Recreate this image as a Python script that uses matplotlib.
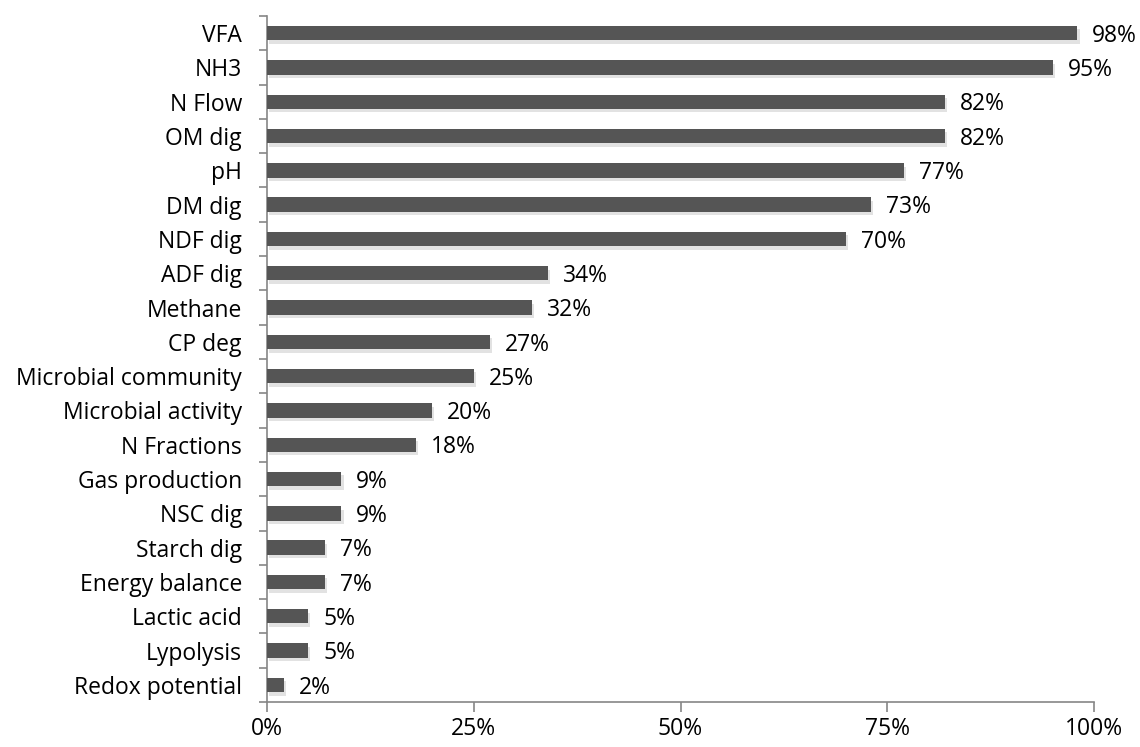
import matplotlib
matplotlib.use("Agg")
import matplotlib.pyplot as plt
import matplotlib.patheffects as pe
import numpy as np

categories = ["VFA", "NH3", "N Flow", "OM dig", "pH", "DM dig", "NDF dig", "ADF dig",
              "Methane", "CP deg", "Microbial community", "Microbial activity",
              "N Fractions", "Gas production", "NSC dig", "Starch dig",
              "Energy balance", "Lactic acid", "Lypolysis", "Redox potential"]
values = [98, 95, 82, 82, 77, 73, 70, 34, 32, 27, 25, 20, 18, 9, 9, 7, 7, 5, 5, 2]
xticks = [0, 25, 50, 75, 100]
xticklabels = ["0%", "25%", "50%", "75%", "100%"]

plt.rcParams['font.family'] = ['Open Sans', 'DejaVu Sans']
FS = 16.5

fig = plt.figure(figsize=(11.4, 7.47), dpi=100)
ax = fig.add_axes([267/1140, 1-702/747, (1094-267)/1140, (702-16)/747])

n = len(categories)
y = np.arange(n)[::-1]
bars = ax.barh(y, values, height=0.42, color="#555555", zorder=3)
for b in bars:
    b.set_path_effects([pe.SimplePatchShadow(offset=(1.5, -2.5), shadow_rgbFace="#b8b8b8", alpha=0.4), pe.Normal()])

for yi, v in zip(y, values):
    ax.text(v + 1.8, yi - 0.08, f"{v}%", va="center", ha="left", fontsize=FS, color="black")

ax.set_xlim(0, 100)
ax.set_ylim(-0.5, n - 0.5)
ax.set_xticks(xticks)
ax.set_xticklabels(xticklabels, fontsize=FS)
ax.set_yticks(y)
ax.set_yticklabels(categories, fontsize=FS)
ax.tick_params(axis='y', length=0, pad=18)
ax.set_yticks(np.arange(-0.5, n, 1), minor=True)
ax.tick_params(axis='y', which='minor', length=6, color="#868686", width=1.2, direction='out')
ax.tick_params(axis='x', length=7, color="#868686", width=1.2, direction='out', pad=4)

for s in ["top", "right"]:
    ax.spines[s].set_visible(False)
for s in ["left", "bottom"]:
    ax.spines[s].set_color("#868686")
    ax.spines[s].set_linewidth(1.2)

fig.savefig("out.png", dpi=100)
